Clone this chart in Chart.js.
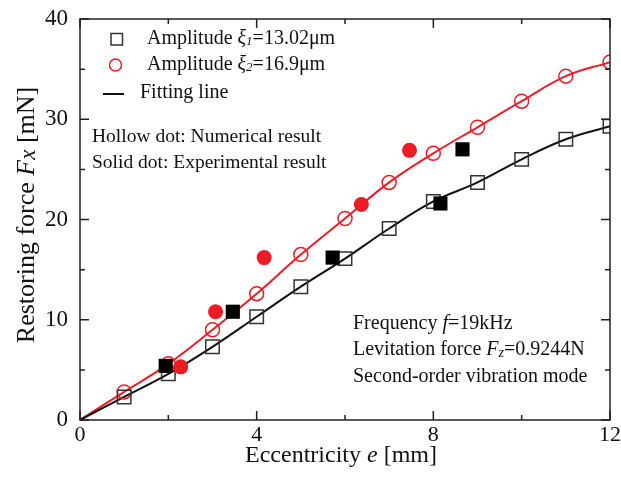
<!DOCTYPE html>
<html>
<head>
<meta charset="utf-8">
<script src="https://cdn.jsdelivr.net/npm/chart.js@4.4.1/dist/chart.umd.min.js"></script>
<style>
  body { margin: 0; background: #fff; }
  #wrap { width: 621px; height: 479px; position: relative; }
</style>
</head>
<body>
<div id="wrap"><canvas id="forceChart"></canvas></div>
<script>
// eccentricity e [mm] of the numerical points
const eNum = [1, 2, 3, 4, 5, 6, 7, 8, 9, 10, 11, 12];
// numerical Fx [mN], amplitude 13.02 um and 16.9 um
const fxNum1 = [2.3, 4.6, 7.3, 10.3, 13.3, 16.1, 19.1, 21.8, 23.7, 26.0, 28.0, 29.3];
const fxNum2 = [2.8, 5.6, 9.0, 12.6, 16.5, 20.1, 23.7, 26.6, 29.2, 31.8, 34.3, 35.7];
// experimental points
const eExp1 = [1.94, 3.46, 5.72, 8.16, 8.66];
const fxExp1 = [5.4, 10.8, 16.2, 21.6, 27.0];
const eExp2 = [2.28, 3.07, 4.17, 6.37, 7.46];
const fxExp2 = [5.3, 10.8, 16.2, 21.5, 26.9];
const xTicks = [0, 4, 8, 12];
const yTicks = [0, 10, 20, 30, 40];

const RED = '#ed1c24';
const SERIF = '"Liberation Serif", "DejaVu Serif", serif';

const pts = (xs, ys) => xs.map((x, i) => ({x: x, y: ys[i]}));
const fit = (xs, ys) => [{x: 0, y: 0}].concat(pts(xs, ys));

// draw a run of text pieces with different fonts / offsets
function drawRun(ctx, x, y, parts) {
    let cx = x;
    parts.forEach(p => {
        ctx.font = p.f;
        ctx.fillText(p.t, cx, y + (p.dy || 0));
        cx += ctx.measureText(p.t).width;
    });
    return cx - x;
}
function runWidth(ctx, parts) {
    let w = 0;
    parts.forEach(p => { ctx.font = p.f; w += ctx.measureText(p.t).width; });
    return w;
}

const frame = {
    id: 'frame',
    afterDraw(chart) {
        const ctx = chart.ctx;
        const a = chart.chartArea;
        const xs = chart.scales.x, ys = chart.scales.y;
        ctx.save();
        ctx.strokeStyle = '#222';
        ctx.lineWidth = 1.5;
        ctx.strokeRect(a.left, a.top, a.right - a.left, a.bottom - a.top);
        ctx.beginPath();
        for (let v = 0; v <= 12; v += 2) {
            const px = xs.getPixelForValue(v);
            const len = v % 4 === 0 ? 9 : 5;
            ctx.moveTo(px, a.bottom); ctx.lineTo(px, a.bottom - len);
            ctx.moveTo(px, a.top); ctx.lineTo(px, a.top + len);
        }
        for (let v = 0; v <= 40; v += 5) {
            const py = ys.getPixelForValue(v);
            const len = v % 10 === 0 ? 9 : 5;
            ctx.moveTo(a.left, py); ctx.lineTo(a.left + len, py);
            ctx.moveTo(a.right, py); ctx.lineTo(a.right - len, py);
        }
        ctx.stroke();

        ctx.fillStyle = '#111';
        ctx.textBaseline = 'middle';
        const f = s => s + 'px ' + SERIF;
        const fi = s => 'italic ' + s + 'px ' + SERIF;

        // axis titles
        const xt = [{t: 'Eccentricity ', f: f(24)}, {t: 'e', f: fi(24)}, {t: ' [mm]', f: f(24)}];
        drawRun(ctx, 341 - runWidth(ctx, xt) / 2, 456, xt);
        const yt = [{t: 'Restoring force ', f: f(26)}, {t: 'F', f: fi(26)}, {t: 'x', f: fi(23), dy: 2}, {t: ' [mN]', f: f(26)}];
        ctx.save();
        ctx.translate(27, 215);
        ctx.rotate(-Math.PI / 2);
        drawRun(ctx, -runWidth(ctx, yt) / 2, 0, yt);
        ctx.restore();

        // legend
        ctx.lineWidth = 1.5;
        ctx.strokeStyle = '#333';
        ctx.strokeRect(111, 33.5, 11.5, 11.5);
        ctx.strokeStyle = RED;
        ctx.beginPath(); ctx.arc(115.5, 65, 6, 0, Math.PI * 2); ctx.stroke();
        ctx.strokeStyle = '#111';
        ctx.lineWidth = 2;
        ctx.beginPath(); ctx.moveTo(103, 94); ctx.lineTo(124, 94); ctx.stroke();
        drawRun(ctx, 147, 39, [{t: 'Amplitude ', f: f(20)}, {t: 'ξ', f: fi(20)}, {t: '1', f: fi(13), dy: 3}, {t: '=13.02μm', f: f(20)}]);
        drawRun(ctx, 147, 65, [{t: 'Amplitude ', f: f(20)}, {t: 'ξ', f: fi(20)}, {t: '2', f: fi(13), dy: 3}, {t: '=16.9μm', f: f(20)}]);
        drawRun(ctx, 140, 93, [{t: 'Fitting line', f: f(20)}]);

        // notes
        drawRun(ctx, 92, 137, [{t: 'Hollow dot: Numerical result', f: f(19.5)}]);
        drawRun(ctx, 92, 163, [{t: 'Solid dot: Experimental result', f: f(19.5)}]);
        drawRun(ctx, 353, 324, [{t: 'Frequency ', f: f(20)}, {t: 'f', f: fi(20)}, {t: '=19kHz', f: f(20)}]);
        drawRun(ctx, 353, 350, [{t: 'Levitation force ', f: f(20)}, {t: 'F', f: fi(20)}, {t: 'z', f: fi(14), dy: 3}, {t: '=0.9244N', f: f(20)}]);
        drawRun(ctx, 353, 377, [{t: 'Second-order vibration mode', f: f(20)}]);
        ctx.restore();
    }
};

new Chart('forceChart', {
    type: 'scatter',
    data: {
        datasets: [
            {data: pts(eExp1, fxExp1), pointStyle: 'rect', pointRadius: 10, backgroundColor: '#000', borderColor: '#000', borderWidth: 0},
            {data: pts(eExp2, fxExp2), pointStyle: 'circle', pointRadius: 7.5, backgroundColor: RED, borderColor: RED, borderWidth: 0},
            {data: pts(eNum, fxNum1), pointStyle: 'rect', pointRadius: 9.5, backgroundColor: 'rgba(0,0,0,0)', borderColor: '#333', borderWidth: 1.5},
            {data: pts(eNum, fxNum2), pointStyle: 'circle', pointRadius: 7, backgroundColor: 'rgba(0,0,0,0)', borderColor: RED, borderWidth: 1.5},
            {data: fit(eNum, fxNum1), showLine: true, pointRadius: 0, borderColor: '#111', borderWidth: 2, tension: 0.4},
            {data: fit(eNum, fxNum2), showLine: true, pointRadius: 0, borderColor: RED, borderWidth: 2, tension: 0.4}
        ]
    },
    options: {
        responsive: true,
        maintainAspectRatio: false,
        animation: false,
        layout: {padding: {top: 19, right: 9, left: 0, bottom: 0}},
        plugins: {legend: {display: false}, tooltip: {enabled: false}},
        scales: {
            x: {
                type: 'linear', min: 0, max: 12,
                afterFit: s => { s.height = 59; s.paddingLeft = 0; s.paddingRight = 0; },
                afterBuildTicks: s => { s.ticks = xTicks.map(v => ({value: v})); },
                grid: {display: false, drawTicks: false},
                border: {display: false},
                ticks: {color: '#111', padding: 2, font: {family: SERIF, size: 22}, maxRotation: 0}
            },
            y: {
                type: 'linear', min: 0, max: 40,
                afterFit: s => { s.width = 80; s.paddingTop = 0; s.paddingBottom = 0; },
                afterBuildTicks: s => { s.ticks = yTicks.map(v => ({value: v})); },
                grid: {display: false, drawTicks: false},
                border: {display: false},
                ticks: {color: '#111', padding: 12, font: {family: SERIF, size: 23}}
            }
        }
    },
    plugins: [frame]
});
</script>
</body>
</html>
